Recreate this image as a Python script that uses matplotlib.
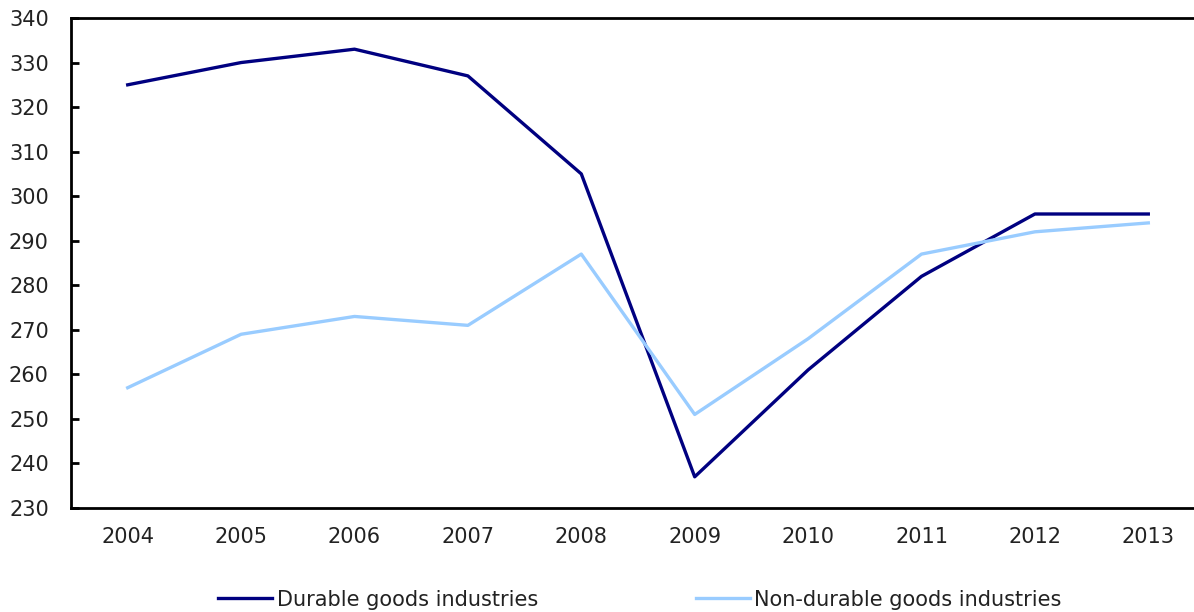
import numpy as np
import matplotlib.pyplot as plt

years = ['2004', '2005', '2006', '2007', '2008', '2009', '2010', '2011', '2012', '2013']
durable = [325, 330, 333, 327, 305, 237, 261, 282, 296, 296]
non_durable = [257, 269, 273, 271, 287, 251, 268, 287, 292, 294]

plt.rcParams['font.family'] = ['DejaVu Sans']
plt.rcParams['font.size'] = 15
plt.rcParams['text.color'] = '#222222'

fig = plt.figure(figsize=(11.94, 6.12), dpi=100)
# axes extend a little past the right edge, like the original
ax = fig.add_axes([71 / 1194, 1 - 508 / 612, 1134 / 1194, 490 / 612])

x = np.arange(len(years))
ax.plot(x, durable, color='#000080', lw=2.4, label='Durable goods industries')
ax.plot(x, non_durable, color='#99ccff', lw=2.4, label='Non-durable goods industries')

ax.set_xlim(-0.5, 9.5)
ax.set_ylim(230, 340)
ax.set_yticks(np.arange(230, 341, 10))
ax.set_xticks(x)
ax.set_xticklabels(years)
ax.tick_params(axis='y', direction='in', length=6, width=2, pad=16, labelcolor='#222222')
ax.tick_params(axis='x', length=0, pad=14, labelcolor='#222222')
for s in ['left', 'bottom', 'top']:
    ax.spines[s].set_linewidth(2)
ax.spines['right'].set_visible(False)

fig.legend(loc='center', bbox_to_anchor=(0.536, 0.02), ncol=2, frameon=False,
           handlelength=2.6, handletextpad=0.2, columnspacing=7.6, fontsize=15)

fig.savefig('out.png', dpi=100)
